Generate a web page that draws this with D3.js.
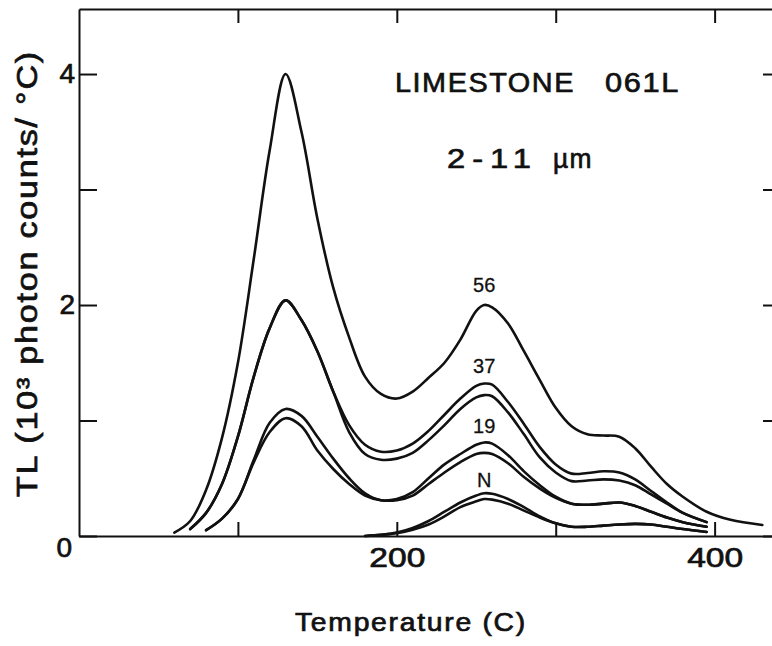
<!DOCTYPE html>
<html>
<head>
<meta charset="utf-8">
<script src="https://cdn.jsdelivr.net/npm/d3@7"></script>
<style>
    body { margin: 0; background: #fff; }
    svg { display: block; }
</style>
</head>
<body>
<div id="tl-chart"></div>
<script>
// temperature grid (C) shared by all glow curves
const temps = [60, 70, 80, 90, 100, 110, 120, 130, 140, 150, 160, 170, 180, 190, 200, 210, 220, 230, 240, 250,
    255, 260, 270, 280, 290, 300, 310, 320, 330, 340, 350, 360, 370, 380, 395, 410, 430];

// TL in 10^3 photon counts / C, null where the curve is not drawn
const tl56 = [0.03, 0.13, 0.40, 0.85, 1.50, 2.40, 3.34, 4.00, 3.50, 2.75, 2.15, 1.72, 1.38, 1.23, 1.19, 1.25, 1.37, 1.50, 1.70, 1.95,
    2.00, 1.98, 1.84, 1.60, 1.35, 1.11, 0.95, 0.88, 0.87, 0.86, 0.76, 0.60, 0.45, 0.34, 0.21, 0.14, 0.095];
const tl37a = [null, 0.06, 0.20, 0.45, 0.86, 1.38, 1.80, 2.04, 1.87, 1.60, 1.25, 0.96, 0.79, 0.73, 0.74, 0.80, 0.91, 1.05, 1.19, 1.30,
    1.32, 1.31, 1.16, 0.97, 0.77, 0.62, 0.54, 0.545, 0.56, 0.55, 0.49, 0.39, 0.29, 0.20, 0.12, null, null];
const tl37b = [null, 0.06, 0.20, 0.45, 0.86, 1.38, 1.80, 2.04, 1.87, 1.60, 1.25, 0.90, 0.71, 0.66, 0.67, 0.72, 0.83, 0.96, 1.10, 1.20,
    1.22, 1.21, 1.07, 0.88, 0.68, 0.55, 0.475, 0.48, 0.49, 0.48, 0.44, 0.36, 0.28, 0.20, 0.12, null, null];
const tl19a = [null, null, 0.05, 0.15, 0.32, 0.66, 0.98, 1.10, 1.04, 0.86, 0.67, 0.50, 0.37, 0.31, 0.32, 0.38, 0.50, 0.62, 0.71, 0.79,
    0.81, 0.80, 0.70, 0.56, 0.44, 0.34, 0.28, 0.27, 0.28, 0.29, 0.26, 0.21, 0.16, 0.12, 0.08, null, null];
const tl19b = [null, null, 0.05, 0.15, 0.32, 0.64, 0.90, 1.02, 0.95, 0.74, 0.58, 0.45, 0.35, 0.31, 0.31, 0.35, 0.45, 0.55, 0.64, 0.71,
    0.72, 0.71, 0.63, 0.51, 0.41, 0.33, 0.28, 0.27, 0.28, 0.29, 0.26, 0.21, 0.16, 0.12, 0.08, null, null];
const tlNa = [null, null, null, null, null, null, null, null, null, null, null, null, 0.0, 0.01, 0.03, 0.07, 0.13, 0.21, 0.29, 0.35,
    0.37, 0.365, 0.32, 0.25, 0.17, 0.11, 0.08, 0.08, 0.09, 0.10, 0.105, 0.10, 0.08, 0.06, 0.035, null, null];
const tlNb = [null, null, null, null, null, null, null, null, null, null, null, null, 0.0, 0.01, 0.025, 0.055, 0.10, 0.17, 0.25, 0.30,
    0.32, 0.315, 0.28, 0.22, 0.16, 0.11, 0.08, 0.08, 0.09, 0.10, 0.105, 0.10, 0.08, 0.06, 0.035, null, null];

// curve labels (dose) and where they sit
const curveLabels = ["56", "37", "19", "N"];
const labelTemps = [255, 255, 255, 255];
const labelValues = [2.11, 1.41, 0.89, 0.42];

// ticks
const xTicks = [100, 200, 300, 400];
const xTickLabels = ["", "200", "", "400"];
const yTicks = [0, 1, 2, 3, 4];
const yTickLabels = ["0", "", "2", "", "4"];

const width = 772;
const height = 646;
const font = "'Liberation Sans', Arial, Helvetica, sans-serif";
const ink = "#111";

const xScale = d3.scaleLinear().domain([0, 438]).range([79, 775]);
const yScale = d3.scaleLinear().domain([0, 4.563]).range([536, 9]);

const svg = d3.select("#tl-chart").append("svg")
    .attr("width", width)
    .attr("height", height)
    .attr("viewBox", [0, 0, width, height]);

// helper to style axis groups
function styleAxis(g) {
    g.attr("font-family", font).attr("font-size", 28);
    g.selectAll("path, line").attr("stroke", ink).attr("stroke-width", 2);
    g.selectAll("text").attr("fill", ink).attr("stroke", ink).attr("stroke-width", 0.7);
}

// wide, loosely set lettering: put text at (x, y), then stretch it to span `span` px
function wideText(str, x, y, span, size, rotate = 0, spacing = 1.5) {
    const g = svg.append("g");
    const t = g.append("text")
        .attr("font-family", font)
        .attr("font-size", size)
        .attr("letter-spacing", spacing)
        .attr("fill", ink)
        .attr("stroke", ink)
        .attr("stroke-width", 0.7)
        .text(str);
    const w = t.node().getBBox().width;
    g.attr("transform", `translate(${x},${y}) rotate(${rotate}) scale(${span / w},1)`);
    return t;
}

// bottom axis
svg.append("g")
    .attr("transform", `translate(0,${yScale(0)})`)
    .call(d3.axisBottom(xScale).tickValues(xTicks).tickSizeInner(-14).tickSizeOuter(0).tickPadding(11)
        .tickFormat((d, i) => xTickLabels[i]))
    .call(styleAxis)
    .call(g => g.selectAll(".tick text").filter(function () { return this.textContent !== ""; })
        .attr("textLength", 56).attr("lengthAdjust", "spacingAndGlyphs"));

// top axis
svg.append("g")
    .attr("transform", `translate(0,${yScale.range()[1]})`)
    .call(d3.axisTop(xScale).tickValues(xTicks).tickSizeInner(-14).tickSizeOuter(0).tickFormat(""))
    .call(styleAxis);

// left axis
svg.append("g")
    .attr("transform", `translate(${xScale(0)},0)`)
    .call(d3.axisLeft(yScale).tickValues(yTicks).tickSizeInner(-18).tickSizeOuter(0).tickPadding(4)
        .tickFormat((d, i) => yTickLabels[i]))
    .call(styleAxis)
    .call(g => g.selectAll(".tick text").filter(d => d === 0)
        .attr("dy", "0.72em").attr("x", -7));

// right axis (its line sits just past the picture edge)
svg.append("g")
    .attr("transform", `translate(${xScale.range()[1]},0)`)
    .call(d3.axisRight(yScale).tickValues(yTicks).tickSizeInner(-12).tickSizeOuter(0).tickFormat(""))
    .call(styleAxis);

// glow curves
const series = [tl56, tl37a, tl37b, tl19a, tl19b, tlNa, tlNb];
const line = d3.line()
    .defined(d => d[1] !== null)
    .x(d => xScale(d[0]))
    .y(d => yScale(d[1]))
    .curve(d3.curveCatmullRom.alpha(0.5));

svg.append("g")
    .selectAll("path")
    .data(series)
    .join("path")
    .attr("d", s => line(temps.map((t, i) => [t, s[i]])))
    .attr("fill", "none")
    .attr("stroke", ink)
    .attr("stroke-width", 2.6)
    .attr("stroke-linecap", "round")
    .attr("stroke-linejoin", "round");

// curve labels
svg.append("g")
    .attr("font-family", font)
    .attr("font-size", 20)
    .attr("fill", ink)
    .attr("text-anchor", "middle")
    .selectAll("text")
    .data(curveLabels)
    .join("text")
    .attr("x", (d, i) => xScale(labelTemps[i]))
    .attr("y", (d, i) => yScale(labelValues[i]))
    .attr("stroke", ink)
    .attr("stroke-width", 0.3)
    .text(d => d);

// sample title
wideText("LIMESTONE", 395, 92, 180, 28);
wideText("061L", 605, 92, 75, 28);
wideText("2-11", 447, 168, 91, 28, 0, 6);
wideText("µm", 553, 168, 40, 28);

// axis titles
wideText("Temperature (C)", 295, 631, 232, 25);
wideText("TL (10³ photon counts/ °C)", 37, 497, 447, 29, -90);
</script>
</body>
</html>
